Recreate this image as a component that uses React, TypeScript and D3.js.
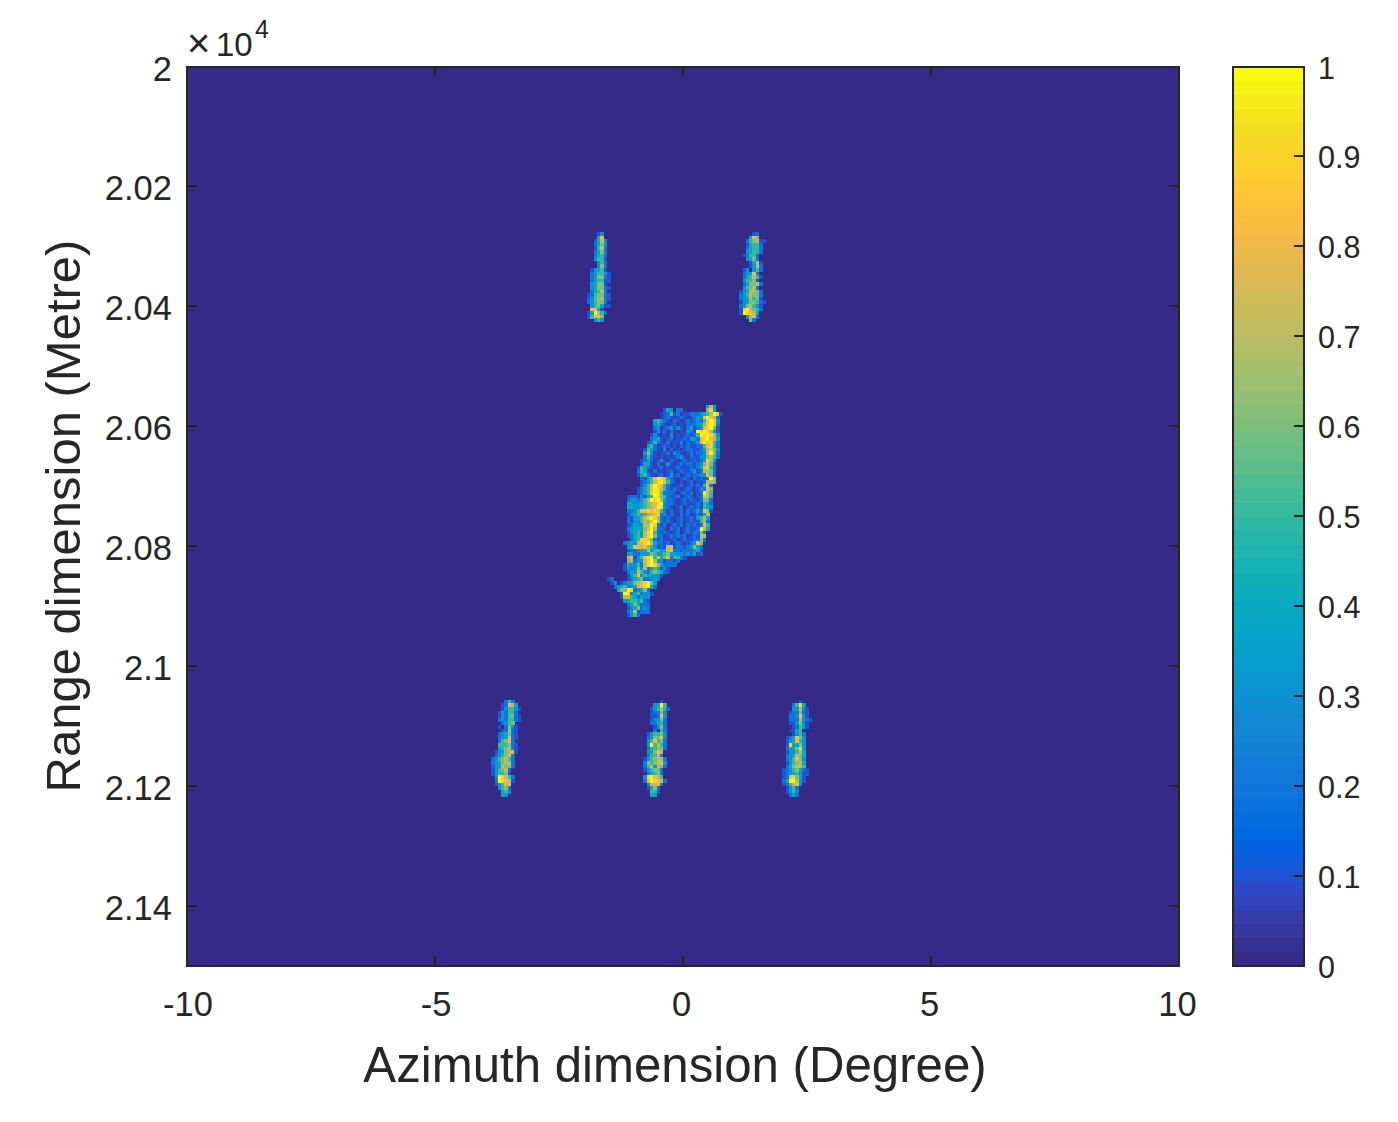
import React from "react";
import * as d3 from "d3";

const xTicks = [-10, -5, 0, 5, 10];
const yTicks = [20000, 20200, 20400, 20600, 20800, 21000, 21200, 21400];
const yTickLabels = ["2", "2.02", "2.04", "2.06", "2.08", "2.1", "2.12", "2.14"];
const cbTicks = [0, 0.1, 0.2, 0.3, 0.4, 0.5, 0.6, 0.7, 0.8, 0.9, 1];
const cbTickLabels = ["0", "0.1", "0.2", "0.3", "0.4", "0.5", "0.6", "0.7", "0.8", "0.9", "1"];
const xLabel = "Azimuth dimension (Degree)";
const yLabel = "Range dimension (Metre)";

// grid of the image
const azStart = -10, azStep = 20 / 300, rangeStart = 20000, rangeStep = 6;

// parula, 64 steps
const parula = [
[.2081,.1663,.5292],[.2116,.1898,.5777],[.2123,.2138,.6270],[.2081,.2386,.6771],[.1959,.2645,.7279],[.1707,.2919,.7792],[.1253,.3242,.8303],[.0591,.3598,.8683],[.0117,.3875,.8820],[.0060,.4086,.8828],[.0165,.4266,.8786],[.0329,.4430,.8720],[.0498,.4586,.8641],[.0629,.4737,.8554],[.0723,.4887,.8467],[.0779,.5040,.8384],[.0793,.5200,.8312],[.0749,.5375,.8263],[.0641,.5570,.8240],[.0488,.5772,.8228],[.0343,.5966,.8199],[.0265,.6137,.8135],[.0239,.6287,.8038],[.0231,.6418,.7913],[.0228,.6535,.7768],[.0267,.6642,.7607],[.0384,.6743,.7436],[.0590,.6838,.7254],[.0843,.6928,.7062],[.1133,.7015,.6859],[.1453,.7098,.6646],[.1801,.7177,.6424],[.2178,.7250,.6193],[.2586,.7317,.5954],[.3022,.7376,.5712],[.3482,.7424,.5473],[.3953,.7459,.5244],[.4420,.7481,.5033],[.4871,.7491,.4840],[.5300,.7491,.4661],[.5709,.7485,.4494],[.6099,.7473,.4337],[.6473,.7456,.4188],[.6834,.7435,.4044],[.7184,.7411,.3905],[.7525,.7384,.3768],[.7858,.7356,.3633],[.8185,.7327,.3498],[.8507,.7299,.3360],[.8824,.7274,.3217],[.9139,.7258,.3063],[.9450,.7261,.2886],[.9739,.7314,.2666],[.9938,.7455,.2403],[.9990,.7653,.2164],[.9955,.7861,.1967],[.9880,.8066,.1794],[.9789,.8271,.1633],[.9697,.8481,.1475],[.9626,.8705,.1309],[.9589,.8949,.1132],[.9598,.9218,.0948],[.9661,.9514,.0755],[.9763,.9831,.0538],
];
const parulaHex = parula.map(([r, g, b]) => d3.rgb(r * 255, g * 255, b * 255).formatHex());

// levels per cell: '.' = 0, '0' = .05, digits = tenths, 'a' = 1
const shipRow0 = 94;
const shipCol0 = 122;
const shipRows = [
"...................................474",
"......................143.22.......694",
".....................0125120112223457a91",
".....................01210121012338a872",
"...................45321021012123258a93",
"...................34210120102223469a92",
"...................23012313102412389a61",
"...................1312021010321a9a9731",
"..................131010301012125a9a973",
"..................23410120112143289a874",
".................1252102011302123 8a8952".replace(" ", ""),
".................4520121010212112258952",
"................15421030201012211247863",
"................36310112032101212237a62",
"................25210101012310211336752",
"...............12420131021012112124974",
"...............14410201310121221236862",
"..............154210120101211121248952",
"..............254102010120121123127762",
"..............145210120141201212233862",
"...............2145 8a9842101210212 12a7".replace(/ /g, ""),
"...............123579a8521010120112776",
"...............1358a98521012012121582",
"..............124 58a97521210121013286".replace(" ", ""),
"..............12459a96222101212012a75",
"...........12213145a96521120121012875",
"...........2332357a9a7422101212112662",
"...........4433456789a322101210121542",
"...........443345678a9321012012121543",
"...........22358898985212012021232871",
"...........1345456789231210212012147",
"...........2134579a9621210120121357 4".replace(" ", ""),
"...........21335768a72121012012 11572".replace(" ", ""),
"...........1243377a921201212021 21285".replace(" ", ""),
"...........2344468a72210212012112a74",
"...........134537 9a52121012012122 62".replace(/ /g, ""),
"...........1245379a6220121212012177",
"............24599862121012012112262",
"..........234378 9a74221201210123 86".replace(/ /g, ""),
"...........34887865312178122123642",
"...........12234473553478221222341",
"...........34224346534564433232412",
"...........781358 9a58468255 21".replace(/ /g, ""),
"...........6723379a73312212",
"..........14335279a9642222",
"..........13236372354131",
"...........2437532565421",
"...........13583544331",
".....12....1245622343",
"......13.12346789a64",
".......2345234789a42",
"........466a923462",
".........1a92452331",
".........177542433",
"..........34554521",
"...........2364222",
"...........1346232",
"...........2371222",
"...........1352",
];

const blobARow0 = 46;
const blobACol0 = 120;
const blobARows = [
"....13",
"....48",
"...1473",
"...2463",
"...1572",
"...2462",
"...2452",
"...3551",
"....352",
"....362",
"..13451",
"..235531",
"..236621",
"..245511",
"..34661",
"..346621",
"..24572",
".1256621",
".1356721",
".235662",
"..356411",
"..8841",
".14a752",
".15886",
"...353",
];

const blobBRow0 = 46;
const blobBCol0 = 167;
const blobBRows = [
"....12",
"...486",
"..256711",
"..14552",
"..24552",
"..34552",
".12552",
"..3462",
"...1471",
"...1372",
".13.352",
".23482",
".245751",
".35561",
".246672",
".35672",
"1347762",
"2357662",
"2347561",
"13466521",
"2367531",
"19a7652",
"1a9874",
"..3782",
"...62",
];

const blobCRow0 = 176;
const blobCCol0 = 92;
const blobCRows = [
"....252",
"...12874",
"...135531",
"..132552",
"..1325621",
"..2325521",
"...2356",
"..1.2631",
"...12721",
"..234621",
"..234821",
"..25682",
"..555621",
"..456721",
".1346781",
".235682",
"2356752",
"2346772",
"1347662",
"135672",
"135561",
".3a9752",
".2a9871",
".13578",
"..3562",
"...453",
"...43",
];

const blobDRow0 = 176;
const blobDCol0 = 137;
const blobDRows = [
"......1",
"....34a5",
"...135752",
"...12263",
"...11283",
"...13362",
"...22452",
"....1362",
"....2.52",
"..135563",
"..236683",
"..358562",
"..3a5752",
"..245662",
"..34687",
"..25572",
".1356772",
".2656783",
".2573762",
".135662",
"..24562",
".39a875",
".28a9872",
"..37782",
"..1462",
"...551",
"...44",
];

const blobERow0 = 176;
const blobECol0 = 180;
const blobERows = [
".....1",
"...2594",
"...33731",
"..122621",
"..223831",
"..2227321",
"..113631",
"...12541",
"..0145",
"...1352",
".124863",
".134853",
".194463",
".244693",
".133574",
".234764",
".235863",
".135674",
".246775",
"12356421",
"12345311",
"1289641",
"24aa731",
"125783",
".1352",
".1353",
"..242",
];

const blobs = [
  { row0: shipRow0, col0: shipCol0, rows: shipRows },
  { row0: blobARow0, col0: blobACol0, rows: blobARows },
  { row0: blobBRow0, col0: blobBCol0, rows: blobBRows },
  { row0: blobCRow0, col0: blobCCol0, rows: blobCRows },
  { row0: blobDRow0, col0: blobDCol0, rows: blobDRows },
  { row0: blobERow0, col0: blobECol0, rows: blobERows },
];

const levelValue = (ch: string) => (ch === "." ? -1 : ch === "a" ? 1 : ch === "0" ? 0.05 : +ch / 10);

const ink = "#262626";
const font = "'Liberation Sans', Arial, sans-serif";

export default function App() {
  const L = 187, R = 1179, T = 66.5, B = 966;
  const x = d3.scaleLinear().domain([-10, 10]).range([L, R]);
  const y = d3.scaleLinear().domain([20000, 21500]).range([T, B]);
  const cbL = 1233, cbR = 1304;
  const cy = d3.scaleLinear().domain([0, 1]).range([B, T]);
  const color = d3.scaleQuantize<string>().domain([0, 1]).range(parulaHex);

  const cells: { c: number; r: number; v: number }[] = [];
  blobs.forEach((b) =>
    b.rows.forEach((s, i) =>
      Array.from(s).forEach((ch, j) => {
        const v = levelValue(ch);
        if (v >= 0) cells.push({ c: b.col0 + j, r: b.row0 + i, v });
      })
    )
  );

  const tick = 10;
  return (
    <svg width={1398} height={1122} style={{ position: "absolute", left: 0, top: 0, background: "#fff" }} fontFamily={font} shapeRendering="crispEdges">
      <rect x={L} y={T} width={R - L} height={B - T} fill={parulaHex[0]} />
      {cells.map((d, i) => {
        const a0 = azStart + d.c * azStep, r0 = rangeStart + d.r * rangeStep;
        return (
          <rect key={i} x={x(a0)} y={y(r0)} width={x(a0 + azStep) - x(a0) + 0.3} height={y(r0 + rangeStep) - y(r0) + 0.3} fill={color(d.v)} />
        );
      })}
      <rect x={L} y={T} width={R - L} height={B - T} fill="none" stroke={ink} strokeWidth={2} />
      {xTicks.map((t) => (
        <g key={t}>
          <line x1={x(t)} x2={x(t)} y1={B} y2={B - tick} stroke={ink} strokeWidth={2} />
          <line x1={x(t)} x2={x(t)} y1={T} y2={T + tick} stroke={ink} strokeWidth={2} />
          <text x={x(t) + (t < 0 ? 1 : -1.5)} y={1016} textAnchor="middle" fontSize={34.5} fill={ink}>{t}</text>
        </g>
      ))}
      {yTicks.map((t, i) => (
        <g key={t}>
          <line x1={L} x2={L + tick} y1={y(t)} y2={y(t)} stroke={ink} strokeWidth={2} />
          <line x1={R} x2={R - tick} y1={y(t)} y2={y(t)} stroke={ink} strokeWidth={2} />
          <text x={172} y={y(t) + 14} textAnchor="end" fontSize={34.5} fill={ink}>{yTickLabels[i]}</text>
        </g>
      ))}
      <text x={187} y={57} fontSize={40} fill={ink}>×</text>
      <text x={216} y={56} fontSize={33} fill={ink}>10</text>
      <text x={255} y={38} fontSize={25} fill={ink}>4</text>
      <text x={675} y={1081.5} textAnchor="middle" fontSize={49.2} fill={ink}>{xLabel}</text>
      <text transform={`translate(80,${516}) rotate(-90)`} textAnchor="middle" fontSize={49} fill={ink}>{yLabel}</text>

      {parulaHex.map((c, i) => {
        const v0 = i / 64, v1 = (i + 1) / 64;
        return <rect key={i} x={cbL} y={cy(v1)} width={cbR - cbL} height={cy(v0) - cy(v1) + 0.5} fill={c} />;
      })}
      <rect x={cbL} y={T} width={cbR - cbL} height={B - T} fill="none" stroke={ink} strokeWidth={2} />
      {cbTicks.map((t, i) => (
        <g key={t}>
          <line x1={cbR} x2={cbR - 10} y1={cy(t)} y2={cy(t)} stroke={ink} strokeWidth={2} />
          <text x={1318} y={cy(t) + 12} fontSize={30.5} fill={ink}>{cbTickLabels[i]}</text>
        </g>
      ))}
    </svg>
  );
}
